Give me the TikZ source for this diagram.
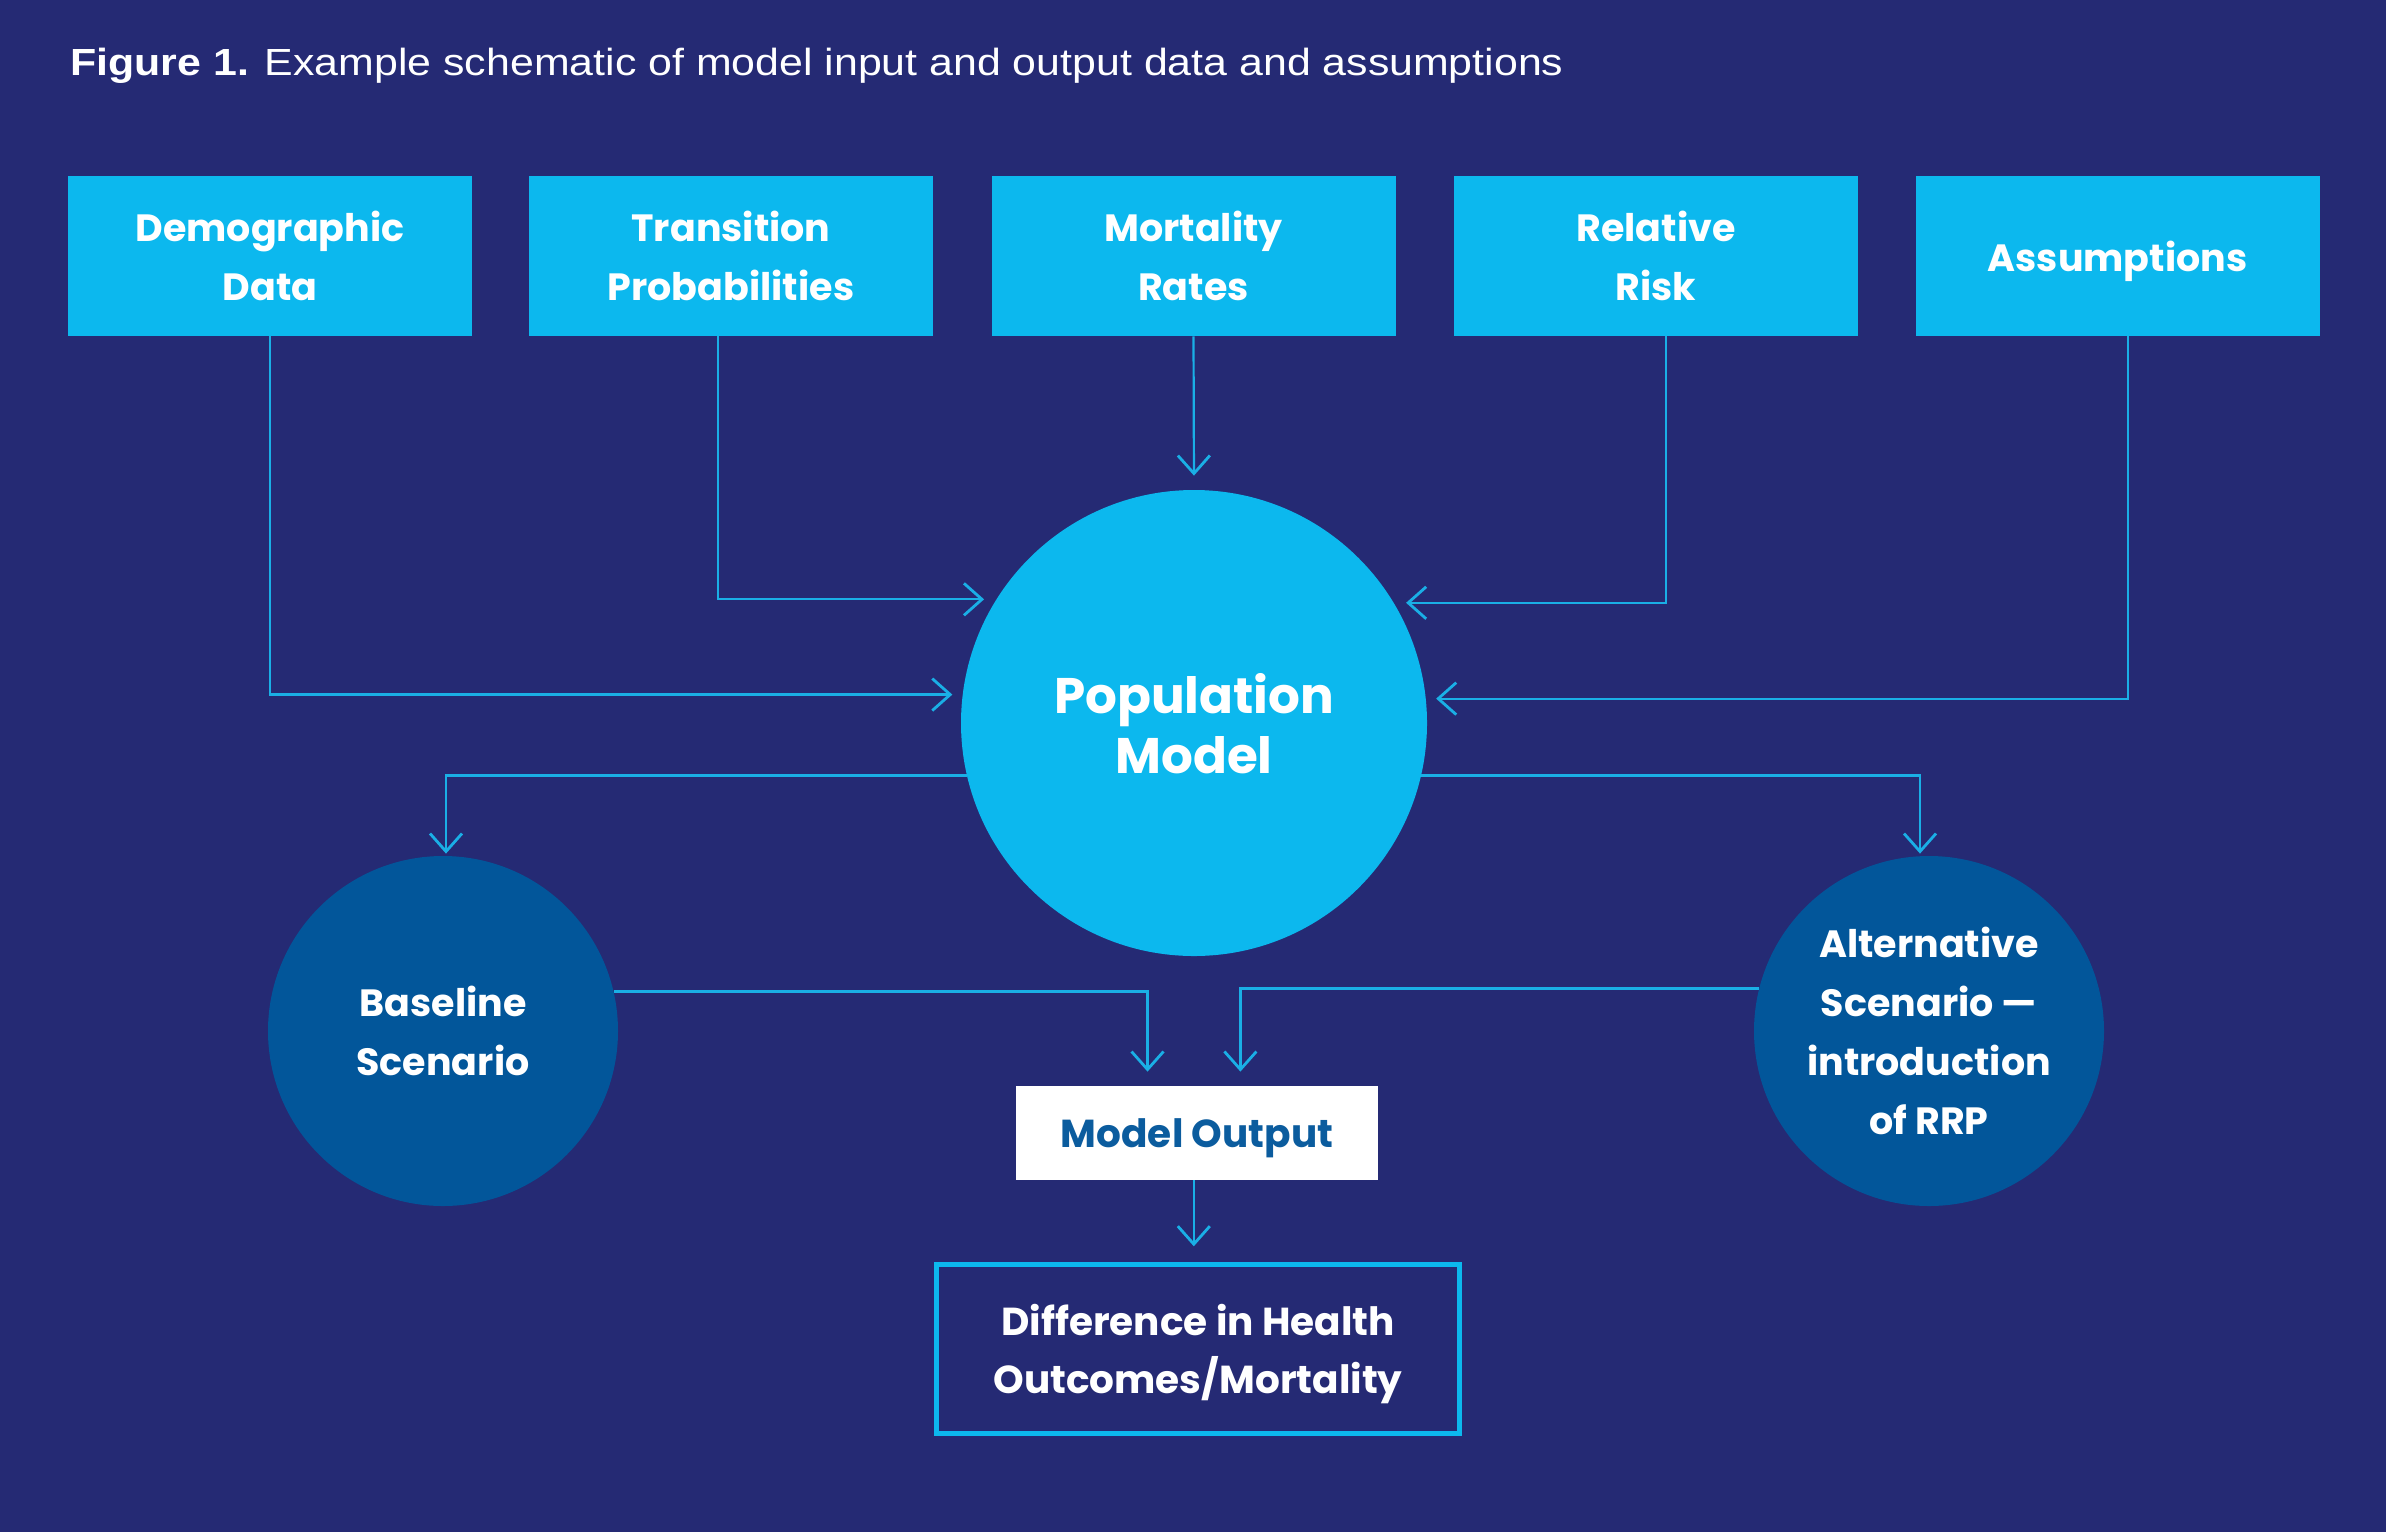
\documentclass[tikz,border=0pt]{standalone}
\usepackage{graphicx}
\usepackage{fontspec}
\setmainfont{Poppins}
\newfontfamily\titlefont{Liberation Sans}
\usetikzlibrary{arrows.meta,calc}
\definecolor{bg}{HTML}{252A74}
\definecolor{cyanbox}{HTML}{0CB8EE}
\definecolor{arrowc}{HTML}{1AAFE6}
\definecolor{darkcirc}{HTML}{02569A}
\definecolor{outtext}{HTML}{0B5C9E}
\begin{document}
\begin{tikzpicture}[x=0.5pt,y=-0.5pt,
  inbox/.style={fill=cyanbox, minimum width=202pt, minimum height=80pt, inner sep=0pt,
    align=center, text=white, text depth=-3pt, font=\bfseries\fontsize{19}{29.5}\selectfont},
  popnode/.style={circle, fill=cyanbox, minimum size=233pt, inner sep=0pt, align=center,
    text=white, text depth=-2pt, font=\bfseries\fontsize{25}{30}\selectfont},
  scen/.style={circle, fill=darkcirc, minimum size=175pt, inner sep=0pt, align=center,
    text=white, font=\bfseries\fontsize{19}{29.5}\selectfont},
  outbox/.style={fill=white, minimum width=180.7pt, minimum height=47pt, inner sep=0pt,
    text=outtext, text depth=-4pt, font=\bfseries\fontsize{19.5}{29.5}\selectfont},
  diffbox/.style={draw=cyanbox, line width=2.5pt, minimum width=261.5pt, minimum height=84.25pt,
    inner sep=0pt, align=center, text=white, text depth=-3pt, font=\bfseries\fontsize{19.5}{29}\selectfont},
  arr/.style={draw=arrowc, line width=1.1pt,
    -{Straight Barb[length=9pt,width=16pt,line width=1.4pt]}},
]
\fill[bg] (0,0) rectangle (2386,1532);
\useasboundingbox (0,0) rectangle (2386,1532);

\node[anchor=base west, inner sep=0pt, text=white, font=\titlefont\fontsize{18.9}{22}\selectfont] (title) at (70,75)
  {\scalebox{1.134}[1]{\textbf{Figure 1.} Example schematic of model input and output data and assumptions}};

\node[inbox] (demo)  at (270,256)    {Demographic\\Data};
\node[inbox] (trans) at (731,256)    {Transition\\Probabilities};
\node[inbox] (mort)  at (1193.5,256) {Mortality\\Rates};
\node[inbox] (rel)   at (1656,256)   {Relative\\Risk};
\node[inbox] (assum) at (2117.5,256) {Assumptions};

\node[popnode] (pop) at (1194,723) {Population\\Model};

\node[scen] (base) at (443,1031) {Baseline\\Scenario};
\node[scen] (alt)  at (1929,1031) {Alternative\\Scenario —\\introduction\\of RRP};

\node[outbox] (out) at (1197,1133) {Model Output};
\node[diffbox] (diff) at (1198,1349) {Difference in Health\\Outcomes/Mortality};

% inputs
\draw[arr, shorten >=7pt] (mort.south) -- (pop.north);
\draw[arr, shorten >=6pt] ([xshift=-6.5pt]trans.south) |- (pop.148.7);
\draw[arr, shorten >=5pt] (demo.south) |- (pop.173.6);
\draw[arr, shorten >=6pt] ([xshift=4.85pt]rel.south) |- (pop.31.4);
\draw[arr, shorten >=5pt] ([xshift=5.25pt]assum.south) |- (pop.6.4);

% outputs to scenarios
\draw[arr, shorten >=1pt] (pop.193.1) -| ([xshift=1.5pt]base.north);
\draw[arr, shorten >=1pt] (pop.-13.1) -| ([xshift=-4.5pt]alt.north);

% scenarios to model output
\draw[arr, shorten >=7pt] (base.13.2) -| ([xshift=-24.75pt]out.north);
\draw[arr, shorten >=7pt] (alt.166.8) -| ([xshift=21.7pt]out.north);

% model output to difference
\draw[arr, shorten >=8pt] ([xshift=-1.6pt]out.south) -- ([xshift=-1.6pt]out.south |- diff.north);
\end{tikzpicture}
\end{document}
